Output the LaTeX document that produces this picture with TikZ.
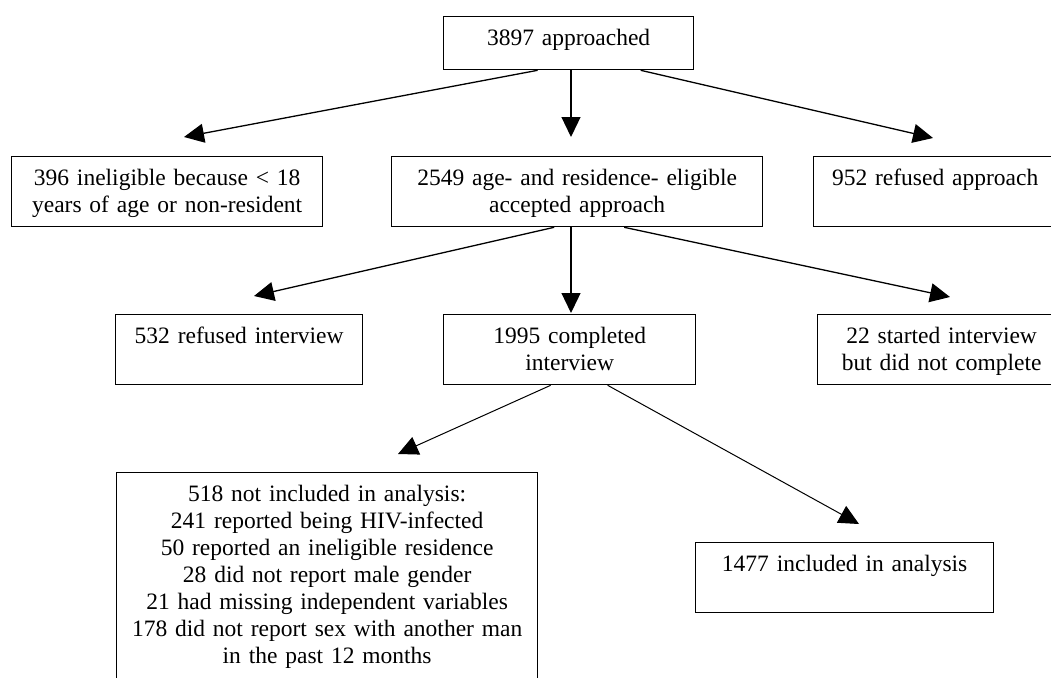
\documentclass[tikz,border=0pt]{standalone}
\usepackage{fontspec}
\setmainfont{Liberation Serif}
\usetikzlibrary{arrows.meta}

\tikzset{box/.style={draw, line width=1.3pt, anchor=north west, inner sep=0pt,
                     align=center, text height=29pt, text depth=41pt},
         arr/.style={line width=1.3pt, -{Triangle[length=20pt,width=19pt]}}}

\begin{document}
\begin{tikzpicture}[x=1pt,y=-1pt,font=\fontsize{23.5}{27}\selectfont]
                \useasboundingbox (0,0) rectangle (1051,677);
                \coordinate (a) at (184,137);
                \coordinate (b) at (571,137);
                \coordinate (c) at (933,138);
                \coordinate (d) at (254,296);
                \coordinate (e) at (571,313);
                \coordinate (f) at (950,297);
                \coordinate (g) at (398,454);
                \coordinate (h) at (859,524);
                \node[box, text width=250pt, text depth=24pt] (A) at (443,16) {3897 approached};
                \node[box, text width=311pt] (B) at (11,156) {396 ineligible because < 18\\years of age or non-resident};
                \node[box, text width=371pt] (C) at (391,156) {2549 age- and residence- eligible\\accepted approach};
                \node[box, text width=243pt] (D) at (813,156) {952 refused approach};
                \node[box, text width=247pt] (E) at (115,314) {532 refused interview};
                \node[box, text width=252pt] (F) at (443,314) {1995 completed\\interview};
                \node[box, text width=248pt] (G) at (817,314) {22 started interview\\but did not complete};
                \node[box, text width=421pt, text depth=201pt] (H) at (116,472) {518 not included in analysis:\\241 reported being HIV-infected\\50 reported an ineligible residence\\28 did not report male gender\\21 had missing independent variables\\178 did not report sex with another man\\in the past 12 months};
                \node[box, text width=298pt] (I) at (695,542) {1477 included in analysis};
                \draw[arr] ([xshift=-31pt]A.south) -- (a);
                \draw[arr] (A.south -| b) -- (b);
                \draw[arr] ([xshift=72pt]A.south) -- (c);
                \draw[arr] ([xshift=-23pt]C.south) -- (d);
                \draw[arr] (C.south -| e) -- (e);
                \draw[arr] ([xshift=47pt]C.south) -- (f);
                \draw[arr, line width=1pt] ([xshift=-19pt]F.south) -- (g);
                \draw[arr, line width=1pt] ([xshift=38pt]F.south) -- (h);
\end{tikzpicture}
\end{document}
